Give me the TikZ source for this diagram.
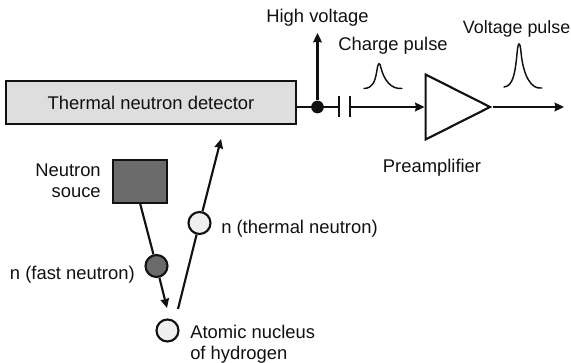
\documentclass[tikz,border=0pt]{standalone}
\usepackage{fontspec}
\setmainfont{Liberation Sans}
\usepackage{xcolor}
\usetikzlibrary{positioning,arrows.meta,shapes.geometric}
\definecolor{detfill}{HTML}{DEDEDE}
\definecolor{srcfill}{HTML}{6B6B6B}
\definecolor{lightn}{HTML}{EFEFEF}
\definecolor{inkc}{HTML}{111111}
\tikzset{
  lab/.style    ={inner sep=0pt, font=\fontsize{13.8pt}{16pt}\selectfont, text=inkc},
  box/.style    ={rectangle, draw=inkc, line width=1.6pt, inner sep=0pt},
  particle/.style={circle, draw=inkc, line width=1.6pt, minimum size=16.5pt, inner sep=0pt},
  wire/.style   ={draw=inkc, line width=1.6pt},
  flow/.style   ={wire, -{Stealth[length=7pt,width=6.5pt,inset=0.6pt]}},
  pulse/.style  ={draw=inkc, line width=1.1pt, line cap=round},
  junction/.style={circle, fill=inkc, minimum size=9.5pt, inner sep=0pt},
}
\begin{document}
\begin{tikzpicture}[x=0.75pt,y=-0.75pt]
  \useasboundingbox (0,0) rectangle (571,363);
  % detector and read-out chain
  \node[box, fill=detfill, minimum width=217.5pt, minimum height=32.25pt, lab] (det) at (151,102.5) {Thermal neutron detector};
  \node[junction] (dot) at (317.5,107) {};
  \coordinate (hvtip) at (317.5,33);
  \coordinate (capL) at (339,107);
  \coordinate (capR) at (350,107);
  \coordinate (capLa) at (339,96);
  \coordinate (capLb) at (339,117);
  \coordinate (capRa) at (350,96);
  \coordinate (capRb) at (350,117);
  \coordinate (outtip) at (564,107);
  \node[isosceles triangle, isosceles triangle stretches, draw=inkc, line width=1.6pt,
        minimum width=65*0.75pt, minimum height=64.5*0.75pt, inner sep=0pt, anchor=lower side] (pre) at (424.5,107) {};
  \draw[wire] (det.east|-dot) -- (capL);
  \draw[flow] (dot) -- (hvtip);
  \draw[wire] (capLa) -- (capLb);
  \draw[wire] (capRa) -- (capRb);
  \draw[flow] (capR) -- (pre.lower side);
  \draw[flow] (pre.apex) -- (outtip);
  % pulses
  \draw[pulse] (364,88.5) .. controls (373,88) and (375,82) .. (377,70) .. controls (378,62) and (380,62) .. (381,68)
     .. controls (384,80) and (391,89.5) .. (402,88.5);
  \draw[pulse] (504,87) .. controls (513,86) and (515,74) .. (517,54) .. controls (518,41) and (520,41) .. (521,52)
     .. controls (523,75) and (531,90) .. (542,88);
  % neutron path
  \node[box, fill=srcfill, minimum width=40.5pt, minimum height=32.25pt] (src) at (140.25,181.5) {};
  \node[particle, fill=srcfill] (fast) at (156.5,266) {};
  \node[particle, fill=lightn] (thermal) at (199.5,223) {};
  \node[particle, fill=lightn] (nucleus) at (167.5,330.5) {};
  \coordinate (hitin) at (167,308);
  \coordinate (hitout) at (178,309);
  \coordinate (dettip) at (221,139);
  \draw[wire] (src.south) -- (fast);
  \draw[flow] (fast) -- (hitin);
  \draw[wire] (hitout) -- (thermal);
  \draw[flow] (thermal) -- (dettip);
  % labels
  \node[lab] (hvlab) at (317.5,18) {High voltage};
  \node[lab] (chlab) at (393,46) {Charge pulse};
  \node[lab, anchor=east, font=\fontsize{13.4pt}{16pt}\selectfont] (vplab) at (570.5,29) {Voltage pulse};
  \node[lab] (prelab) at (432,168) {Preamplifier};
  \node[lab, anchor=east] (srclab) at (101,170) {Neutron};
  \node[lab, anchor=east] (srclab2) at (101,193) {souce};
  \node[lab, anchor=west] (thlab) at (221,229) {n (thermal neutron)};
  \node[lab, anchor=east] (falab) at (135,275) {n (fast neutron)};
  \node[lab, anchor=west] (nulab) at (190,332) {Atomic nucleus};
  \node[lab, anchor=west] (nulab2) at (190,355) {of hydrogen};
\end{tikzpicture}
\end{document}
